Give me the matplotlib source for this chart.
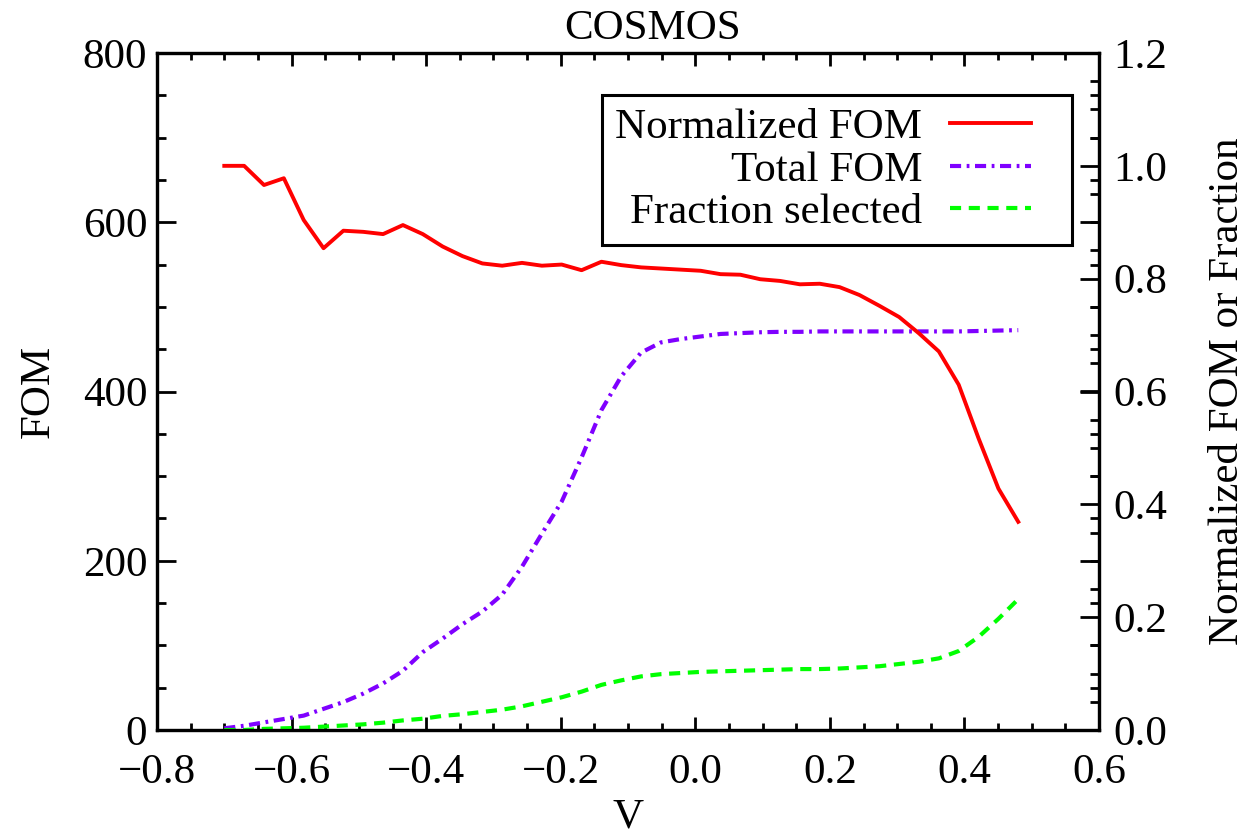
import numpy as np
import matplotlib.pyplot as plt
from matplotlib.ticker import MultipleLocator, FuncFormatter
from matplotlib.legend_handler import HandlerLine2D

plt.rcParams['font.family'] = ['Liberation Serif', 'DejaVu Serif']
plt.rcParams['lines.scale_dashes'] = False

# V cut values
v = [-0.700, -0.6705, -0.641, -0.6115, -0.582, -0.5525, -0.523, -0.4935,
     -0.464, -0.4345, -0.405, -0.3755, -0.346, -0.3165, -0.287, -0.2575,
     -0.228, -0.1985, -0.169, -0.1395, -0.110, -0.0805, -0.051, -0.0215,
     0.008, 0.0375, 0.067, 0.0965, 0.126, 0.1555, 0.185, 0.2145,
     0.244, 0.2735, 0.303, 0.3325, 0.362, 0.3915, 0.421, 0.4505, 0.480]

norm_fom = [1.000, 1.000, 0.966, 0.978, 0.904, 0.854, 0.885, 0.883,
            0.879, 0.895, 0.879, 0.857, 0.840, 0.827, 0.823, 0.828,
            0.823, 0.825, 0.815, 0.830, 0.824, 0.820, 0.818, 0.816,
            0.814, 0.808, 0.807, 0.799, 0.796, 0.790, 0.791, 0.785,
            0.771, 0.752, 0.732, 0.703, 0.671, 0.612, 0.517, 0.428, 0.369]

total_fom = [2, 5, 9, 13, 17, 25, 33, 43,
             55, 70, 92, 108, 125, 140, 160, 193,
             232, 270, 322, 378, 418, 446, 458, 462,
             465, 468, 469, 470, 470.5, 470.5, 471, 471,
             471, 471, 471, 471, 471, 471, 471.5, 472, 472.5]

frac_sel = [0.000, 0.000, 0.002, 0.003, 0.004, 0.006, 0.008, 0.010,
            0.013, 0.017, 0.020, 0.025, 0.028, 0.032, 0.036, 0.042,
            0.050, 0.058, 0.068, 0.080, 0.088, 0.095, 0.099, 0.101,
            0.103, 0.104, 0.105, 0.106, 0.107, 0.108, 0.108, 0.109,
            0.111, 0.113, 0.117, 0.121, 0.127, 0.140, 0.165, 0.197, 0.232]

fs = 31


class ShortLine(HandlerLine2D):
    # legend sample line that leaves a blank strip on its right
    def create_artists(self, legend, orig_handle, xdescent, ydescent,
                       width, height, fontsize, trans):
        return super().create_artists(legend, orig_handle, xdescent, ydescent,
                                      width - 20, height, fontsize, trans)


def fmt(decimals):
    return FuncFormatter(lambda x, pos: f'{x:.{decimals}f}'.replace('-', '\u2212'))


fig = plt.figure(figsize=(12.57, 8.4), dpi=100)
ax = fig.add_axes([157 / 1257, 1 - 730 / 840, 942 / 1257, 677 / 840])
ax2 = ax.twinx()

l2, = ax.plot(v, total_fom, color='#7f00ff', lw=3.0,
              ls=(0, (8, 4, 2, 4)), label='Total FOM')
l1, = ax2.plot(v, norm_fom, color='#ff0000', lw=2.8, label='Normalized FOM')
l3, = ax2.plot(v, frac_sel, color='#00ff00', lw=3.0,
               ls=(0, (8, 5.5)), label='Fraction selected')

ax.set_xlim(-0.8, 0.6)
ax.set_ylim(0, 800)
ax2.set_ylim(0, 1.2)

ax.xaxis.set_major_locator(MultipleLocator(0.2))
ax.xaxis.set_minor_locator(MultipleLocator(0.05))
ax.xaxis.set_major_formatter(fmt(1))
ax.yaxis.set_major_locator(MultipleLocator(200))
ax.yaxis.set_minor_locator(MultipleLocator(50))
ax.yaxis.set_major_formatter(fmt(0))
ax2.yaxis.set_major_locator(MultipleLocator(0.2))
ax2.yaxis.set_minor_locator(MultipleLocator(0.05))
ax2.yaxis.set_major_formatter(fmt(1))

ax.tick_params(axis='x', which='both', direction='in', top=True,
               width=2, labelsize=fs, pad=17)
ax.tick_params(axis='x', which='major', length=9.5)
ax.tick_params(axis='x', which='minor', length=5)
ax.tick_params(axis='y', which='both', direction='in', right=True,
               width=2, labelsize=fs, pad=7)
ax.tick_params(axis='y', which='major', length=13.5)
ax.tick_params(axis='y', which='minor', length=6.5)
ax2.tick_params(axis='y', which='both', direction='in', width=2,
                labelsize=fs, pad=10)
ax2.tick_params(axis='y', which='major', length=13.5)
ax2.tick_params(axis='y', which='minor', length=6.5)

for a in (ax, ax2):
    for s in a.spines.values():
        s.set_linewidth(2.3)

ax.set_xlabel('V', fontsize=fs, labelpad=4)
ax.set_ylabel('FOM', fontsize=fs, labelpad=18)
ax2.set_ylabel('Normalized FOM or Fraction', fontsize=fs, labelpad=30)

fig.text(653 / 1257, 1 - 29 / 840, 'COSMOS', fontsize=fs,
         ha='center', va='center')

leg = ax2.legend(handles=[l1, l2, l3], loc='upper right',
                 bbox_to_anchor=(1072 / 1257, 1 - 95 / 840),
                 bbox_transform=fig.transFigure, fontsize=fs,
                 markerfirst=False, handlelength=2.53, handletextpad=0.65,
                 labelspacing=0.08, borderpad=0.3, borderaxespad=0,
                 fancybox=False, framealpha=1,
                 handler_map={l: ShortLine() for l in (l1, l2, l3)})
leg.get_frame().set_edgecolor('black')
leg.get_frame().set_linewidth(2.2)

fig.savefig('out.png', dpi=100)
